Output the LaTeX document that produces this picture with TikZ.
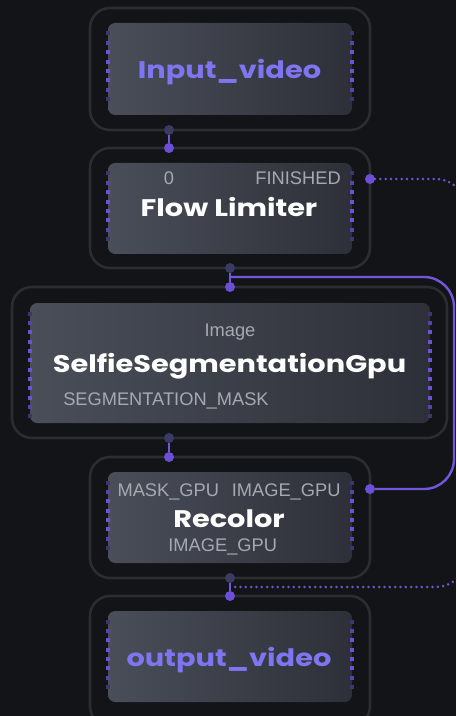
\documentclass[tikz,border=0pt]{standalone}
\usepackage{fontspec}
\newfontfamily\titlefont{Poppins}[FakeStretch=1.2]
\newfontfamily\labelfont{Liberation Sans}
\usetikzlibrary{calc}
\definecolor{bg}{HTML}{131417}
\definecolor{framec}{HTML}{2C2D32}
\definecolor{inL}{HTML}{4A4E59}
\definecolor{inR}{HTML}{2D3038}
\definecolor{pdotc}{HTML}{6C4FD6}
\definecolor{wirec}{HTML}{7356DC}
\definecolor{ddotc}{HTML}{3A3A63}
\definecolor{tpurple}{HTML}{8075F0}
\definecolor{labelc}{HTML}{A7A9B1}
\definecolor{pmdark}{HTML}{3D3470}
\definecolor{pmmid}{HTML}{5843AE}
\definecolor{pmbright}{HTML}{6D52D8}
\newcommand\portmarks[2]{%
  \foreach \k in {0,...,#2}{%
    \pgfmathsetmacro\dist{min(\k,#2-\k)}%
    \ifdim\dist pt<0.5pt \def\pc{pmdark}\else\ifdim\dist pt<1.5pt \def\pc{pmmid}\else\def\pc{pmbright}\fi\fi
    \fill[fill=\pc] ($(#1.north west)+(-2,8.5+\k*9.35)$) rectangle ++(4,4);
    \fill[fill=\pc] ($(#1.north east)+(-2,8.5+\k*9.35)$) rectangle ++(4,4);
  }}
\begin{document}
\begin{tikzpicture}[x=0.75pt,y=-0.75pt,
  frame/.style={draw=framec, line width=1.9pt, rounded corners=15pt, inner sep=0pt, outer sep=0pt, minimum width=210pt},
  inbox/.style={rounded corners=5.5pt, left color=inL, right color=inR, inner sep=0pt, outer sep=0pt, minimum width=183pt},
  pdot/.style={circle, fill=pdotc, minimum size=7.5pt, inner sep=0pt, outer sep=0pt},
  ddot/.style={circle, fill=ddotc, minimum size=7.5pt, inner sep=0pt, outer sep=0pt},
  wire/.style={draw=wirec, line width=1.8pt},
  dotwire/.style={draw=wirec, line width=2.1pt, line cap=round, dash pattern=on 0pt off 4pt},
  ttl/.style={font=\titlefont\bfseries\fontsize{18}{20}\selectfont, text=white, inner sep=0pt, anchor=base},
  ptl/.style={ttl, text=tpurple},
  lbl/.style={font=\labelfont\fontsize{13.7}{15}\selectfont, text=labelc, inner sep=0pt, anchor=base}]
\fill[bg] (0,0) rectangle (456,716);
\useasboundingbox (0,0) rectangle (456,716);
\clip (0,0) rectangle (456,716);
% frames
\node[frame, minimum height=91.5pt] (f1) at (230,69) {};
\node[frame, minimum height=90pt] (f2) at (230,208) {};
\node[frame, minimum width=326.25pt, minimum height=113.25pt] (f3) at (229.5,362.5) {};
\node[frame, minimum height=90.75pt] (f4) at (230,517.5) {};
\node[frame, minimum height=97.5pt] (f5) at (230,661) {};
% inner boxes
\node[inbox, minimum height=69pt] (i1) at (230,69) {};
\node[inbox, minimum height=68.25pt] (i2) at (230,208.5) {};
\node[inbox, minimum width=300pt, minimum height=90pt] (i3) at (230,363) {};
\node[inbox, minimum height=68.25pt] (i4) at (230,517.5) {};
\node[inbox, minimum height=68.25pt] (i5) at (230,656.5) {};
\portmarks{i1}{7}
\portmarks{i2}{7}
\portmarks{i3}{11}
\portmarks{i4}{7}
\portmarks{i5}{7}
% texts
\node[ptl] (t1) at (229.5,79) {Input\_video};
\node[lbl] (l0) at (169,185) {0};
\node[lbl, anchor=base east] (lfin) at (341,185) {FINISHED};
\node[ttl] (t2) at (229,217) {Flow Limiter};
\node[lbl] (limg) at (230,336) {Image};
\node[ttl] (t3) at (229.5,372) {SelfieSegmentationGpu};
\node[lbl, anchor=base west] (lseg) at (63,405) {SEGMENTATION\_MASK};
\node[lbl, anchor=base west] (lmask) at (117.3,496) {MASK\_GPU};
\node[lbl, anchor=base east] (limg2) at (340.7,496) {IMAGE\_GPU};
\node[ttl] (t4) at (229,527.3) {Recolor};
\node[lbl] (limg3) at (222.7,551.7) {IMAGE\_GPU};
\node[ptl] (t5) at (229,666.7) {output\_video};
% dots
\node[ddot] (d1out) at (169,130) {};
\node[pdot] (d2in) at (169,148) {};
\node[pdot] (d2fin) at (370,179) {};
\node[ddot] (d2out) at (230,268) {};
\node[pdot] (d3in) at (230,287) {};
\node[ddot] (d3out) at (169,438) {};
\node[pdot] (d4in) at (169,457) {};
\node[pdot] (d4img) at (370,489) {};
\node[ddot] (d4out) at (230,578) {};
\node[pdot] (d5in) at (230,596) {};
\coordinate (b1) at (230,277);
\coordinate (b2) at (231,587);
% connectors
\draw[wire] (d1out) -- (d2in);
\draw[wire] (d2out) -- (d3in);
\draw[wire] (d3out) -- (d4in);
\draw[wire] (d4out) -- (d5in);
\draw[wire, rounded corners=22.5pt] (b1) -- (454,277) -- (454,489) -- (d4img);
\draw[dotwire, rounded corners=22.5pt] (d2fin) -- (466,179) -- (466,587) -- (b2);
\end{tikzpicture}
\end{document}
